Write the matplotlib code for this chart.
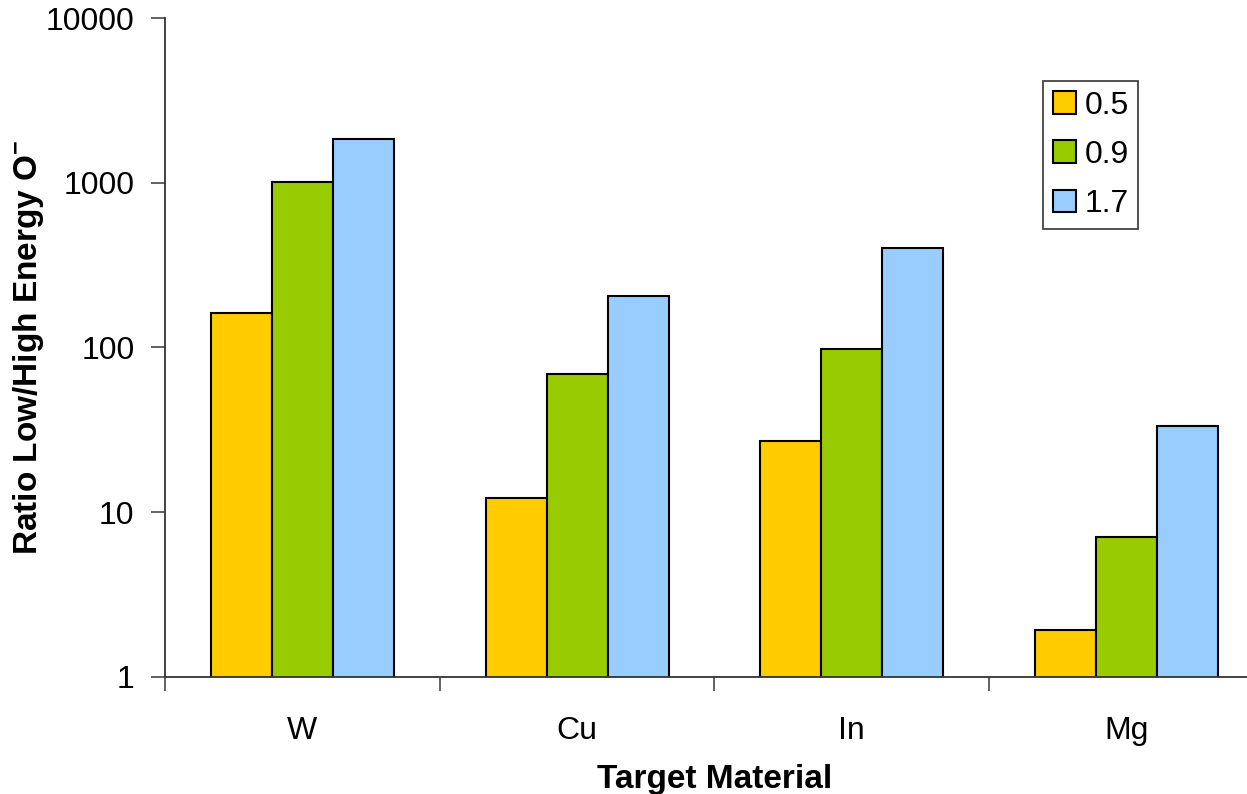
import matplotlib.pyplot as plt
import matplotlib.ticker as mticker
import numpy as np

plt.rcParams["font.family"] = ["Liberation Sans", "DejaVu Sans"]
plt.rcParams["mathtext.fontset"] = "custom"
plt.rcParams["mathtext.rm"] = "Liberation Sans:bold"
plt.rcParams["mathtext.default"] = "rm"

materials = ["W", "Cu", "In", "Mg"]
series_labels = ["0.5", "0.9", "1.7"]
ratio_05 = [162, 12.2, 27, 1.93]
ratio_09 = [1010, 69, 98, 7.1]
ratio_17 = [1850, 205, 402, 33.5]
colors = ["#FFCC00", "#99CC00", "#99CCFF"]


def main():
    fig = plt.figure(figsize=(12.47, 7.94), dpi=100)
    ax = fig.add_axes([0.1323, 0.1474, 0.8813, 0.8299])

    x = np.arange(len(materials))
    width = 0.222
    for i, (vals, lab, c) in enumerate(zip([ratio_05, ratio_09, ratio_17], series_labels, colors)):
        ax.bar(x + (i - 1) * width, vals, width, color=c,
               edgecolor="black", linewidth=1.5, label=lab)

    ax.set_yscale("log")
    ax.set_ylim(1, 10000)
    ax.set_xlim(-0.5, len(materials) - 0.5)
    ax.yaxis.set_major_locator(mticker.FixedLocator([1, 10, 100, 1000, 10000]))
    ax.yaxis.set_minor_locator(mticker.NullLocator())
    ax.yaxis.set_major_formatter(mticker.FuncFormatter(lambda v, p: f"{v:g}"))

    # boundaries get the tick marks, centres get the labels
    ax.set_xticks(np.arange(len(materials) + 1) - 0.5)
    ax.set_xticklabels([])
    ax.set_xticks(x, minor=True)
    ax.set_xticklabels(materials, minor=True)
    ax.tick_params(axis="x", which="minor", length=0, pad=28, labelsize=23)
    ax.tick_params(axis="x", which="major", length=10, width=1.3, color="#555555")
    ax.tick_params(axis="y", length=10, width=1.3, color="#555555", pad=12, labelsize=23)

    for side in ["top", "right"]:
        ax.spines[side].set_visible(False)
    for side in ["left", "bottom"]:
        ax.spines[side].set_color("#333333")
        ax.spines[side].set_linewidth(1.3)

    ax.set_xlabel("Target Material", fontsize=24, fontweight="bold", labelpad=13)
    ax.set_ylabel(r"Ratio Low/High Energy O$^{-}$", fontsize=24, fontweight="bold")
    ax.yaxis.set_label_coords(-0.108, 0.5)

    leg = ax.legend(loc="upper left", bbox_to_anchor=(0.799, 0.904), borderaxespad=0,
                    fontsize=23, handlelength=0.72, handleheight=0.72,
                    handletextpad=0.28, labelspacing=0.6, borderpad=0.3,
                    fancybox=False, framealpha=1, edgecolor="#444444")
    leg.get_frame().set_linewidth(1.3)

    fig.savefig("out.png", dpi=100)


if __name__ == "__main__":
    main()
